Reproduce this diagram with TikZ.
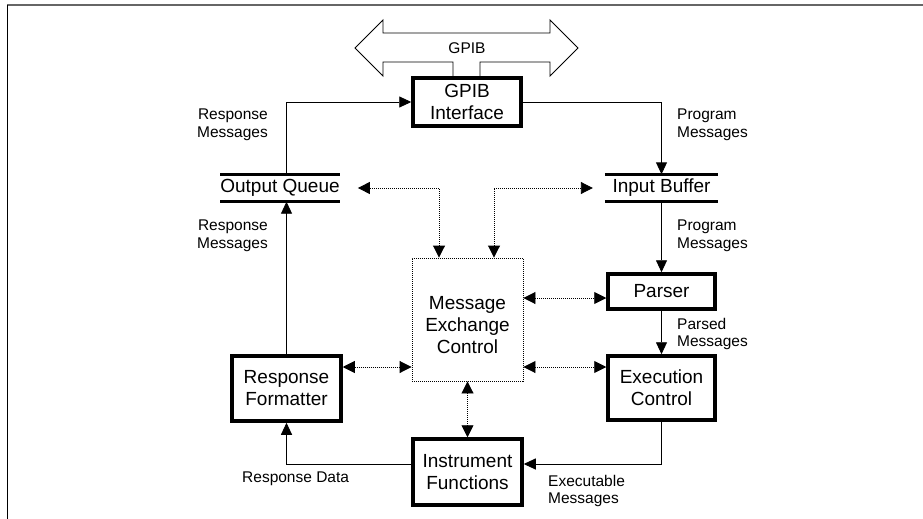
\documentclass[tikz,border=0pt]{standalone}
\usepackage{fontspec}
\setmainfont{Liberation Sans}
\usetikzlibrary{arrows.meta,calc}
\begin{document}
\begin{tikzpicture}[x=1pt,y=-1pt,
  box/.style={draw,line width=3.5pt,inner sep=0pt,align=center,font=\fontsize{19}{22}\selectfont},
  mecbox/.style={draw,line width=0.9pt,dash pattern=on 1pt off 1pt,inner sep=0pt},
  mectext/.style={inner sep=0pt,align=center,font=\fontsize{19}{22}\selectfont},
  queue/.style={inner sep=0pt,font=\fontsize{19}{22}\selectfont},
  bar/.style={line width=2.8pt},
  lbl/.style={inner sep=0pt,font=\fontsize{15.5}{17.5}\selectfont},
  thin/.style={line width=0.9pt},
  arr/.style={line width=0.9pt,-{Triangle[length=12pt,width=11pt]}},
  darr/.style={line width=0.9pt,dash pattern=on 1pt off 1pt,{Triangle[length=12pt,width=12pt]}-{Triangle[length=12pt,width=12pt]}}
]
\useasboundingbox (0,0) rectangle (923,519);
% frame
\draw[line width=1.2pt,black!60] (7,5) -- (923,5);
\draw[line width=1pt] (7,5) -- (7,519);

% boxes
\node[box,minimum width=108pt,minimum height=48pt] (GI) at (467,102) {GPIB\\Interface};
\node[box,minimum width=107pt,minimum height=35pt] (PA) at (661.5,291.5) {Parser};
\node[box,minimum width=107pt,minimum height=64pt] (EC) at (661.5,388) {Execution\\Control};
\node[box,minimum width=109pt,minimum height=66pt] (IF) at (467.5,472) {Instrument\\Functions};
\node[box,minimum width=109pt,minimum height=65pt] (RF) at (286.5,388.5) {Response\\Formatter};
\node[mecbox,minimum width=111pt,minimum height=123pt] (MEC) at (467.5,319.5) {};
\node[mectext] (MECT) at ([yshift=-6pt]MEC.center) {Message\\Exchange\\Control};

% queues
\node[queue,minimum width=114pt,minimum height=27pt] (OQ) at (280,188) {Output Queue};
\draw[bar] (OQ.north west) -- (OQ.north east);
\draw[bar] (OQ.south west) -- (OQ.south east);
\node[queue,minimum width=113pt,minimum height=27pt] (IB) at (661.5,188) {Input Buffer};
\draw[bar] (IB.north west) -- (IB.north east);
\draw[bar] (IB.south west) -- (IB.south east);

% GPIB bus
\draw[thin,line join=miter] (480,0 |- GI.north) -- (480,62) -- (550,62) -- (550,76) -- (578,48) -- (550,20) -- (550,33)
  -- (383,33) -- (383,20) -- (355,48) -- (383,76) -- (383,62) -- (453,62) -- (453,0 |- GI.north);
\node[lbl] (GB) at (467,48) {GPIB};

% solid connectors
\draw[arr] (OQ.north -| RF.north) |- (GI.west);
\draw[arr] (GI.east) -| (IB.north -| PA.north);
\draw[arr] (IB.south -| PA.north) -- (PA.north);
\draw[arr] (PA.south) -- (EC.north);
\draw[arr] (EC.south) |- ([yshift=8pt]IF.east);
\draw[arr] ([yshift=8pt]IF.west) -| (RF.south);
\draw[arr] (RF.north) -- (OQ.south -| RF.north);

% dotted connectors
\draw[darr] (MEC.east |- 0,298) -- (PA.west |- 0,298);
\draw[darr] (MEC.east |- 0,367) -- (EC.west |- 0,367);
\draw[darr] (RF.east |- 0,367) -- (MEC.west |- 0,367);
\draw[darr] (MEC.south) -- (IF.north);
\draw[darr] (MEC.north -| 439,0) |- ([xshift=18pt]OQ.east);
\draw[darr] (MEC.north -| 494,0) |- ([xshift=-12pt]IB.west);

% labels
\node[lbl,align=right,anchor=east] (L1) at (268,125) {Response\\Messages};
\node[lbl,align=right,anchor=east] (L2) at (268,236) {Response\\Messages};
\node[lbl,align=left,anchor=west] (L3) at (677,125) {Program\\Messages};
\node[lbl,align=left,anchor=west] (L4) at (677,236) {Program\\Messages};
\node[lbl,align=left,anchor=west] (L5) at (677,334) {Parsed\\Messages};
\node[lbl,align=left,anchor=west] (L6) at (548,491) {Executable\\Messages};
\node[lbl,anchor=west] (L7) at (242,479) {Response Data};
\end{tikzpicture}
\end{document}
